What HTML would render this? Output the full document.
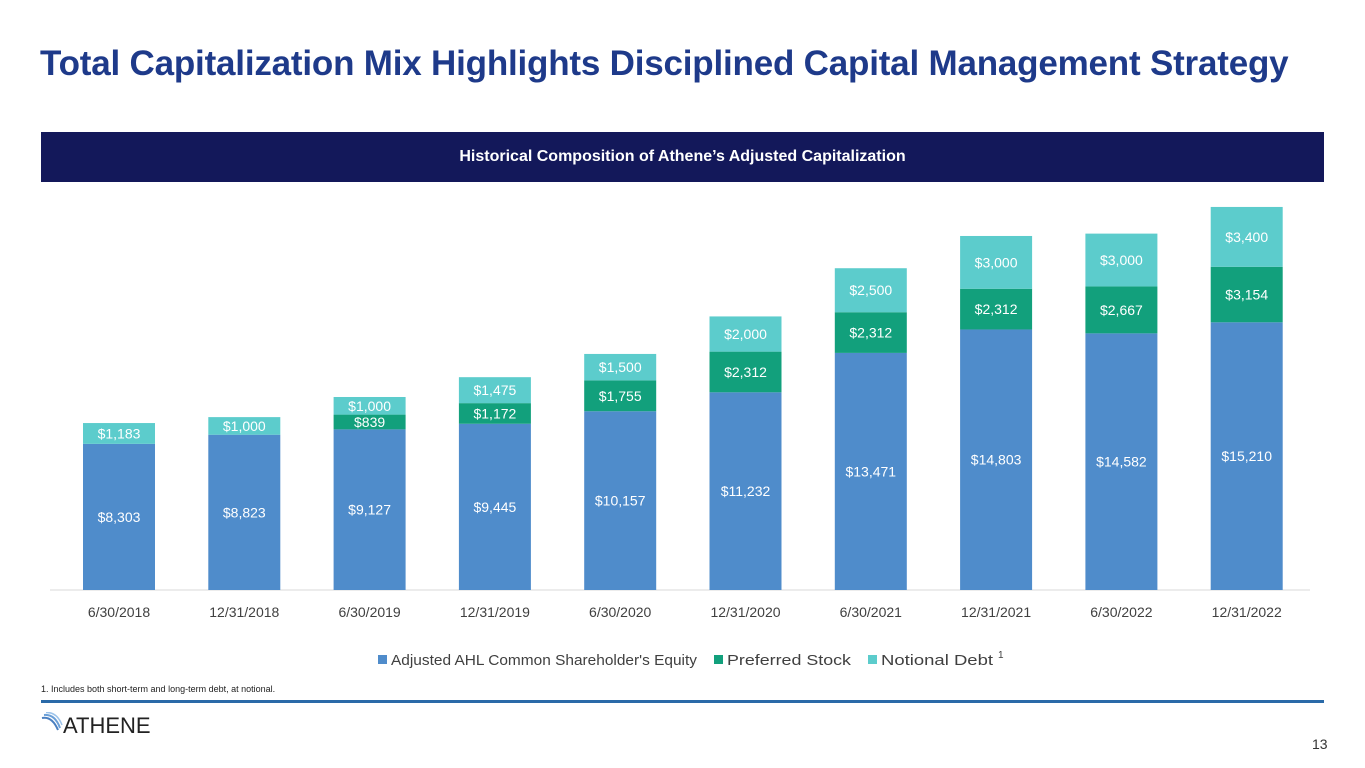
<!DOCTYPE html>
<html><head><meta charset="utf-8"><style>
body{margin:0;width:1365px;height:768px;background:#fff;font-family:"Liberation Sans",Calibri,sans-serif;position:relative;overflow:hidden}
.t{position:absolute;left:40px;top:44px;font-size:35px;font-weight:bold;color:#1e3a8a;letter-spacing:-0.2px}
.ban{position:absolute;left:41px;top:132px;width:1283px;height:50px;background:#13185a;color:#fff;font-size:16px;font-weight:bold;text-align:center;line-height:50px}
.fn{position:absolute;left:41px;top:684px;font-size:9px;color:#222}
.ln{position:absolute;left:41px;top:700px;width:1283px;height:3px;background:#2a6aa8}
.pg{position:absolute;left:1312px;top:736px;font-size:14px;color:#333}
</style></head><body>
<div class="t">Total Capitalization Mix Highlights Disciplined Capital Management Strategy</div>
<div class="ban">Historical Composition of Athene’s Adjusted Capitalization</div>
<svg id="c" width="1365" height="768" style="position:absolute;left:0;top:0"></svg>
<div class="fn">1. Includes both short-term and long-term debt, at notional.</div>
<div class="ln"></div>
<svg style="position:absolute;left:40px;top:712px" width="120" height="24">
<path d="M2 6 Q12 4 18 18" stroke="#4a7fc0" stroke-width="2" fill="none"/><path d="M4 3 Q15 2 20 16" stroke="#6a9fd8" stroke-width="2" fill="none"/><path d="M6 0.5 Q17 0 22 13" stroke="#9cc3ea" stroke-width="1.5" fill="none"/>
<text x="23" y="21" font-family="Liberation Sans,sans-serif" font-size="22" fill="#222">ATHENE</text></svg>
<div class="pg">13</div>
<script>
const categories=["6/30/2018","12/31/2018","6/30/2019","12/31/2019","6/30/2020","12/31/2020","6/30/2021","12/31/2021","6/30/2022","12/31/2022"];
const equity=[8303,8823,9127,9445,10157,11232,13471,14803,14582,15210];
const preferred=[0,0,839,1172,1755,2312,2312,2312,2667,3154];
const debt=[1183,1000,1000,1475,1500,2000,2500,3000,3000,3400];
const seriesNames=["Adjusted AHL Common Shareholder's Equity","Preferred Stock","Notional Debt"];
const colors=["#4f8ccb","#12a07c","#5ccccc"];
const NS="http://www.w3.org/2000/svg";
const svg=document.getElementById('c');
const base=590,k=0.01760,x0=119,step=125.3,bw=72;
const x=i=>x0+i*step; const h=v=>v*k;
function mk(tag,a){const e=document.createElementNS(NS,tag);for(const n in a)e.setAttribute(n,a[n]);svg.appendChild(e);return e;}
const ax=mk('line',{x1:50,x2:1310,y1:base,y2:base,stroke:'#d9d9d9','stroke-width':1});


const fmt=v=>'$'+v.toLocaleString('en-US');
const series=[equity,preferred,debt];
categories.forEach((c,i)=>{
  let y=base;
  series.forEach((s,j)=>{
    const v=s[i]; if(!v)return;
    const hh=h(v); y-=hh;
    const r=mk('rect',{x:x(i)-bw/2,y:y,width:bw,height:hh,fill:colors[j]});
    
    
    const t=mk('text',{x:x(i),y:y+hh/2+5,'text-anchor':'middle','font-size':14,fill:'#fff','font-family':'Liberation Sans,sans-serif'});
    t.textContent=fmt(v);
    
    
  });
  const l=mk('text',{x:x(i),y:617,'text-anchor':'middle','font-size':14,fill:'#404040','font-family':'Liberation Sans,sans-serif'});
  l.textContent=c;
  
  
});
const lx=[378,714,868];
const lw=[306,124,112];
seriesNames.forEach((n,j)=>{
  const r=mk('rect',{x:lx[j],y:655,width:9,height:9,fill:colors[j]});
  
  
  const t=mk('text',{x:lx[j]+13,y:665,'font-size':14.5,fill:'#404040','font-family':'Liberation Sans,sans-serif',textLength:lw[j],lengthAdjust:'spacingAndGlyphs'});
  t.textContent=n;
  
  
});
const sup=mk('text',{x:998,y:658,'font-size':10,fill:'#404040'});
sup.textContent='1';


</script>
</body></html>
